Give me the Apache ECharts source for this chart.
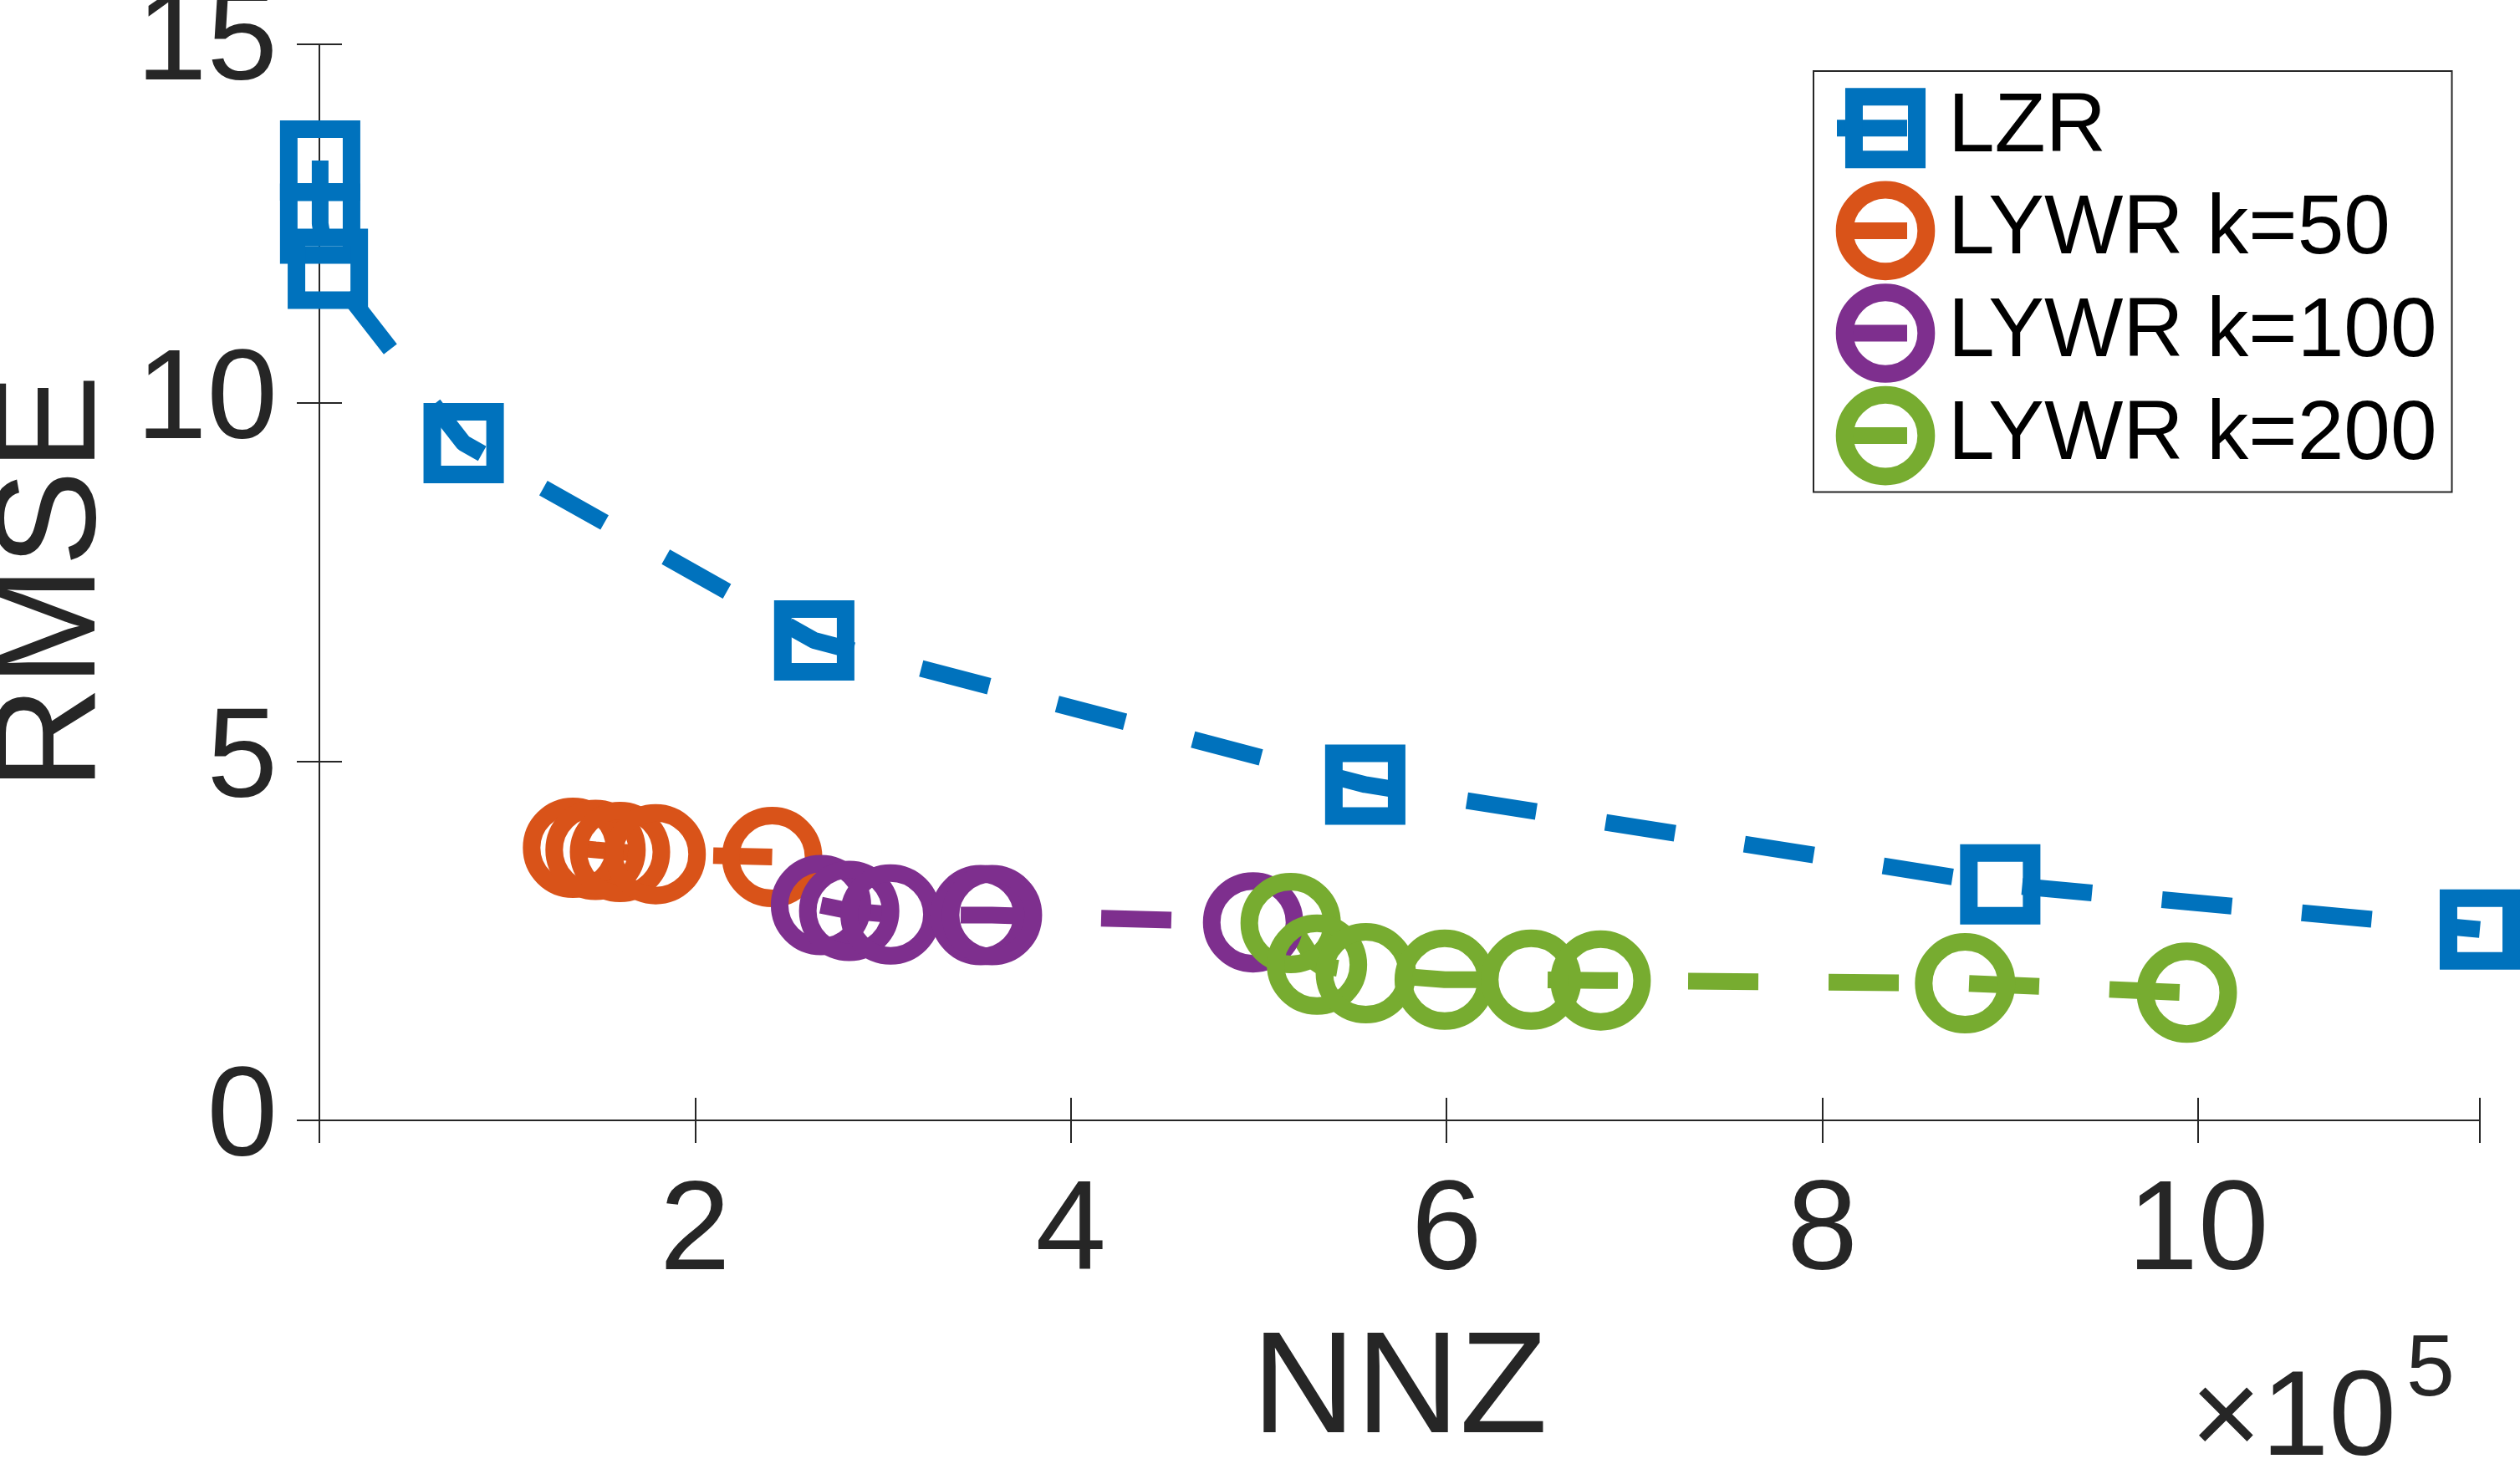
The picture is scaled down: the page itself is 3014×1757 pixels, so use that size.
<!DOCTYPE html>
<html>
<head>
<meta charset="utf-8">
<script src="https://cdn.jsdelivr.net/npm/echarts@6/dist/echarts.min.js"></script>
<style>
  html, body { margin: 0; padding: 0; background: #fff; }
  #chart { width: 3014px; height: 1757px; }
</style>
</head>
<body>
<div id="chart"></div>
<script>
// NNZ values are in units of 1e5
const lzrX = [0.004, 0.004, 0.045, 0.768, 2.634, 5.567, 8.947, 11.5];
const lzrY = [13.38, 12.5, 11.87, 9.44, 6.69, 4.68, 3.29, 2.66];

const k50X = [1.35, 1.47, 1.60, 1.79, 2.41];
const k50Y = [3.80, 3.77, 3.74, 3.71, 3.67];

const k100X = [2.67, 2.82, 3.04, 3.52, 3.58, 4.97];
const k100Y = [3.00, 2.92, 2.87, 2.86, 2.86, 2.76];

const k200X = [5.17, 5.31, 5.57, 5.99, 6.45, 6.82, 8.76, 9.94];
const k200Y = [2.75, 2.17, 2.05, 1.96, 1.96, 1.95, 1.91, 1.78];

const names = ["LZR", "LYWR k=50", "LYWR k=100", "LYWR k=200"];
const colors = ["#0072BD", "#D95319", "#7E2F8E", "#77AC30"];
const xTicks = [2, 4, 6, 8, 10];

const FONT = "Liberation Sans, Arial, Helvetica, sans-serif";
const AXIS = "#262626";
// square with empty margin so it comes out smaller than the circles
const SQUARE = "path://M0,0M130,130M15,15L115,15L115,115L15,115Z";

function pairs(xs, ys) {
  return xs.map((x, i) => [x, ys[i]]);
}

function makeSeries(name, color, data, symbol) {
  return {
    name: name,
    type: "line",
    data: data,
    clip: false,
    showAllSymbol: true,
    symbol: symbol,
    symbolSize: symbol === "circle" ? 99 : 97.6,
    itemStyle: { color: "rgba(0,0,0,0)", borderColor: color, borderWidth: 21 },
    lineStyle: { color: color, width: 20, type: [84, 84], cap: "butt" },
    emphasis: { disabled: true },
  };
}

const chart = echarts.init(document.getElementById("chart"), null, { renderer: "canvas" });

const axisLine = { show: true, lineStyle: { color: AXIS, width: 2 } };
const axisTick = { show: true, inside: true, length: 27, lineStyle: { color: AXIS, width: 2 } };

chart.setOption({
  animation: false,
  backgroundColor: "#fff",
  grid: {
    left: 382, right: 48, top: 53, bottom: 417,
    containLabel: false,
    outerBoundsMode: "none",
  },
  xAxis: [
    {
      type: "value",
      position: "bottom",
      min: 0,
      max: 11.5,
      interval: 2,
      axisLine: axisLine,
      axisTick: axisTick,
      splitLine: { show: false },
      axisLabel: {
        fontSize: 152,
        fontFamily: FONT,
        color: AXIS,
        margin: 60,
        formatter: (v) => (xTicks.includes(v) ? String(v) : ""),
      },
      name: "NNZ",
      nameLocation: "middle",
      nameGap: 240,
      nameTextStyle: { fontSize: 172, fontFamily: FONT, color: AXIS },
    },
    {
      type: "value",
      position: "top",
      min: 0,
      max: 11.5,
      interval: 2,
      axisLine: axisLine,
      axisTick: axisTick,
      axisLabel: { show: false },
      splitLine: { show: false },
    },
  ],
  yAxis: [
    {
      type: "value",
      position: "left",
      min: 0,
      max: 15,
      interval: 5,
      axisLine: axisLine,
      axisTick: axisTick,
      splitLine: { show: false },
      axisLabel: {
        fontSize: 152, fontFamily: FONT, color: AXIS, margin: 50,
        padding: [10, 0, 0, 0],
      },
      name: "RMSE",
      nameLocation: "middle",
      nameGap: 225,
      nameTextStyle: { fontSize: 172, fontFamily: FONT, color: AXIS },
    },
    {
      type: "value",
      position: "right",
      min: 0,
      max: 15,
      interval: 5,
      axisLine: axisLine,
      axisTick: axisTick,
      axisLabel: { show: false },
      splitLine: { show: false },
    },
  ],
  legend: {
    orient: "vertical",
    left: 2169,
    top: 85,
    padding: [9, 18, 8, 18],
    itemGap: 4,
    itemWidth: 116,
    itemHeight: 122,
    selectedMode: false,
    borderColor: AXIS,
    borderWidth: 2,
    backgroundColor: "#fff",
    itemStyle: { color: "inherit", borderColor: "inherit", borderWidth: 21 },
    lineStyle: { width: 20, color: "inherit", type: "inherit" },
    textStyle: { fontSize: 100, fontFamily: FONT, color: "#000", padding: [0, 0, 0, 12] },
    data: names,
  },
  series: [
    makeSeries(names[0], colors[0], pairs(lzrX, lzrY), SQUARE),
    makeSeries(names[1], colors[1], pairs(k50X, k50Y), "circle"),
    makeSeries(names[2], colors[2], pairs(k100X, k100Y), "circle"),
    makeSeries(names[3], colors[3], pairs(k200X, k200Y), "circle"),
  ],
  graphic: [
    {
      type: "text",
      left: 2620,
      top: 1628,
      style: { text: "×10", fontSize: 145, fontFamily: FONT, fill: AXIS },
    },
    {
      type: "text",
      left: 2878,
      top: 1588,
      style: { text: "5", fontSize: 104, fontFamily: FONT, fill: AXIS },
    },
  ],
});
</script>
</body>
</html>
